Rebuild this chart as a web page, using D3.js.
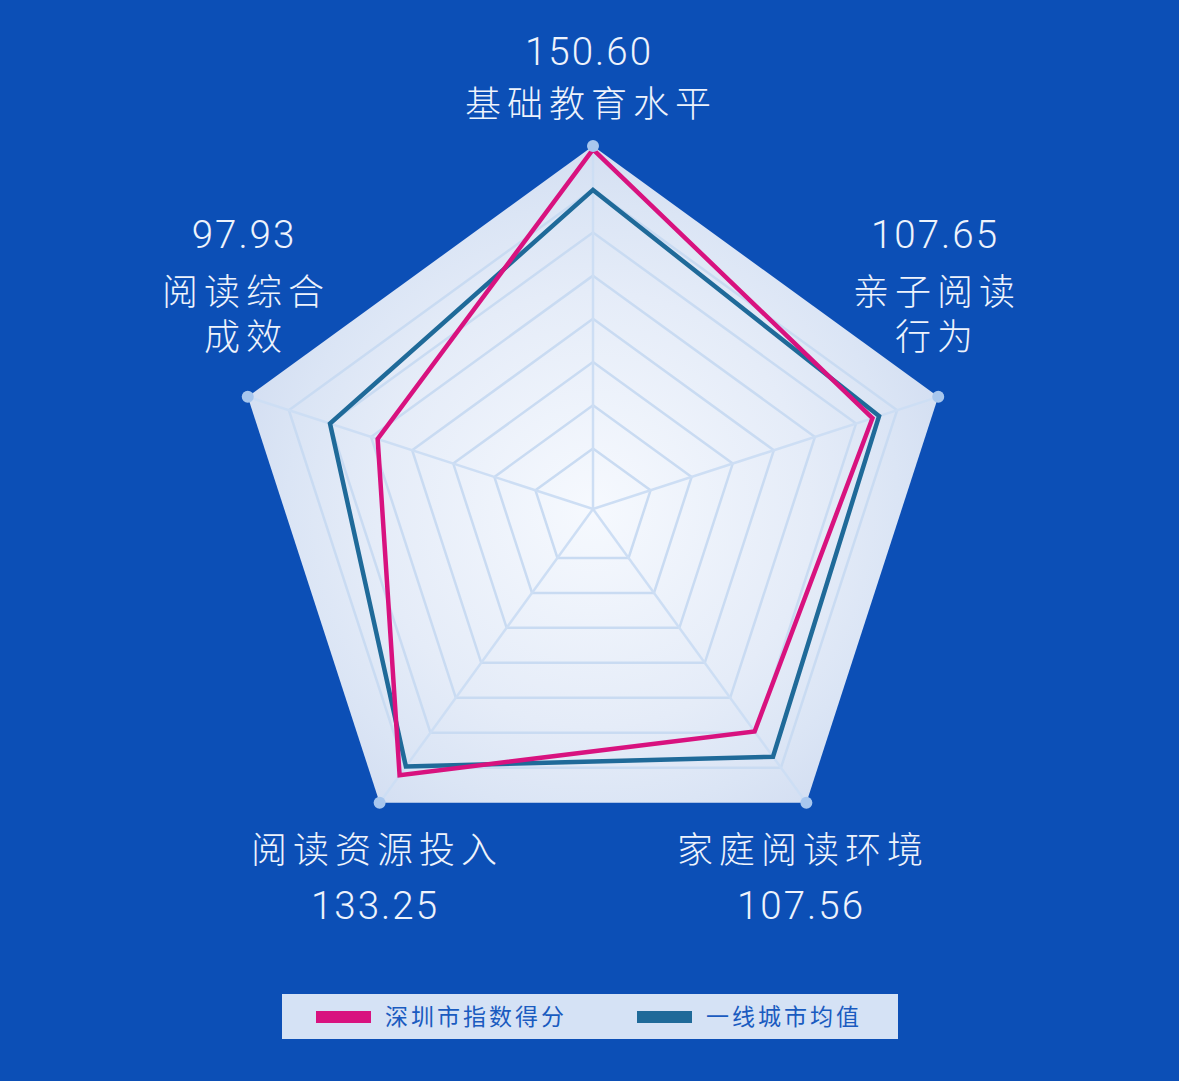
<!DOCTYPE html>
<html>
<head>
<meta charset="utf-8">
<script src="https://cdn.jsdelivr.net/npm/d3@7/dist/d3.min.js"></script>
<style>
  html, body { margin: 0; padding: 0; background: #0c4fb6; }
  svg { display: block; }
</style>
</head>
<body>
<div id="radar"></div>
<script>
// Data
var axisNames = ["基础教育水平", "亲子阅读行为", "家庭阅读环境", "阅读资源投入", "阅读综合成效"];
var axisMax = [152, 133, 142, 147, 157];
var shenzhenScores = [150.60, 107.65, 107.56, 133.25, 97.93];
var cityAverage = [133.6, 110.2, 119.8, 128.9, 119.6];
var seriesNames = ["深圳市指数得分", "一线城市均值"];

function makeChart() {
  var svgWidth = 1179;
  var svgHeight = 1081;
  var cx = 593;
  var cy = 509;
  var radius = 363;

  var svg = d3.select("#radar")
    .append("svg")
    .attr("width", svgWidth)
    .attr("height", svgHeight);

  svg.append("rect")
    .attr("width", svgWidth)
    .attr("height", svgHeight)
    .attr("fill", "#0c4fb6");

  // one radial scale per axis, like radar indicators
  var scales = axisMax.map(function(m) {
    return d3.scaleLinear().domain([0, m]).range([0, radius]);
  });

  var n = axisNames.length;
  function angle(i) { return i * 2 * Math.PI / n; }
  function point(i, r) {
    return [cx + r * Math.sin(angle(i)), cy - r * Math.cos(angle(i))];
  }
  function ring(r) {
    return d3.range(n).map(function(i) { return point(i, r); });
  }

  var line = d3.line().curve(d3.curveLinearClosed);

  // Background gradient
  var defs = svg.append("defs");
  var grad = defs.append("radialGradient")
    .attr("id", "areaGrad")
    .attr("gradientUnits", "userSpaceOnUse")
    .attr("cx", cx).attr("cy", cy).attr("r", radius);
  grad.append("stop").attr("offset", "0%").attr("stop-color", "#f6f9fe");
  grad.append("stop").attr("offset", "60%").attr("stop-color", "#e5ecf8");
  grad.append("stop").attr("offset", "84%").attr("stop-color", "#dbe5f5");
  grad.append("stop").attr("offset", "100%").attr("stop-color", "#d4dff2");

  var grid = svg.append("g");

  grid.append("path")
    .attr("d", line(ring(radius)))
    .attr("fill", "url(#areaGrad)");

  // split rings
  var ringLevels = d3.range(1, 8).map(function(k) { return radius * (1 - k / 8.4); });
  grid.selectAll(".ring")
    .data(ringLevels)
    .enter()
    .append("path")
    .attr("class", "ring")
    .attr("d", function(r) { return line(ring(r)); })
    .attr("fill", "none")
    .attr("stroke", "#c9dbf2")
    .attr("stroke-width", 2.5);

  // spokes
  grid.selectAll(".spoke")
    .data(d3.range(n))
    .enter()
    .append("line")
    .attr("class", "spoke")
    .attr("x1", cx).attr("y1", cy)
    .attr("x2", function(i) { return point(i, radius)[0]; })
    .attr("y2", function(i) { return point(i, radius)[1]; })
    .attr("stroke", "#cddef4")
    .attr("stroke-width", 2.5);

  // Series
  var series = [
    { values: cityAverage, color: "#1f6a99" },
    { values: shenzhenScores, color: "#d8127f" }
  ];
  svg.selectAll(".series")
    .data(series)
    .enter()
    .append("path")
    .attr("class", "series")
    .attr("d", function(s) {
      return line(s.values.map(function(v, i) { return point(i, scales[i](v)); }));
    })
    .attr("fill", "none")
    .attr("stroke", function(s) { return s.color; })
    .attr("stroke-width", 4.5)
    .attr("stroke-linejoin", "miter");

  // vertex dots
  svg.selectAll(".dot")
    .data(d3.range(n))
    .enter()
    .append("circle")
    .attr("class", "dot")
    .attr("cx", function(i) { return point(i, radius)[0]; })
    .attr("cy", function(i) { return point(i, radius)[1]; })
    .attr("r", 6)
    .attr("fill", "#a8c7ee");

  // Axis labels (name + Shenzhen score)
  var font = "Roboto, 'Noto Sans CJK SC', sans-serif";
  var spacing = 6;
  // x, baselines for number and name lines
  var labelLayout = [
    { x: 588, num: 65, lines: [["基础教育水平", 117]] },
    { x: 934, num: 248, lines: [["亲子阅读", 305], ["行为", 350]] },
    { x: 800, num: 919, lines: [["家庭阅读环境", 863]] },
    { x: 374, num: 919, lines: [["阅读资源投入", 863]] },
    { x: 243, num: 248, lines: [["阅读综合", 305], ["成效", 350]] }
  ];
  var labels = svg.append("g")
    .attr("fill", "#eef3fc")
    .attr("font-family", font)
    .attr("font-weight", 300)
    .attr("text-anchor", "middle");

  labelLayout.forEach(function(l, i) {
    labels.append("text")
      .attr("x", l.x + 1)
      .attr("y", l.num)
      .attr("font-size", 38.5)
      .attr("letter-spacing", 2)
      .text(d3.format(".2f")(shenzhenScores[i]));
    l.lines.forEach(function(t) {
      labels.append("text")
        .attr("x", l.x + spacing / 2)
        .attr("y", t[1])
        .attr("font-size", 36)
        .attr("letter-spacing", spacing)
        .text(t[0]);
    });
  });

  // Legend
  var legend = svg.append("g");
  legend.append("rect")
    .attr("x", 282).attr("y", 994)
    .attr("width", 616).attr("height", 45)
    .attr("fill", "#d5e2f5");

  var legendX = [316, 637];
  var legendColors = ["#d8127f", "#1f6a99"];
  seriesNames.forEach(function(name, i) {
    legend.append("rect")
      .attr("x", legendX[i]).attr("y", 1011)
      .attr("width", 55).attr("height", 12)
      .attr("fill", legendColors[i]);
    legend.append("text")
      .attr("x", legendX[i] + 69)
      .attr("y", 1025)
      .attr("font-family", font)
      .attr("font-size", 23)
      .attr("letter-spacing", 3)
      .attr("fill", "#1a5bc0")
      .text(name);
  });
}

makeChart();
</script>
</body>
</html>
